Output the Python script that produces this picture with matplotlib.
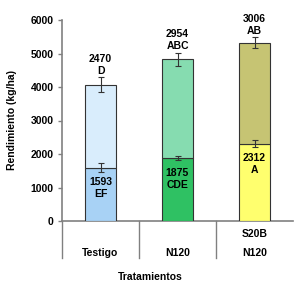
import numpy as np
import matplotlib
matplotlib.use('Agg')
import matplotlib.pyplot as plt

plt.rcParams['font.family'] = ['Liberation Sans', 'DejaVu Sans']
plt.rcParams['font.weight'] = 'bold'

# data
cats_top = ['', '', 'S20B']
cats_bot = ['Testigo', 'N120', 'N120']
base_vals = [1593, 1875, 2312]
base_err = [140, 60, 110]
base_letters = ['EF', 'CDE', 'A']
top_vals = [2470, 2954, 3006]
top_err = [225, 200, 160]
top_letters = ['D', 'ABC', 'AB']

base_colors = ['#a8d2f5', '#2fc163', '#ffff6e']
top_colors = ['#d9edfc', '#86dcb0', '#c6c473']
edge = '#333333'
grid_gray = '#808080'

fig = plt.figure(figsize=(2.96, 2.90), dpi=100)
ax = fig.add_axes([62 / 296, 69 / 290, 231 / 296, 201 / 290])

x = np.arange(len(base_vals)) + 0.5
w = 0.41
ax.bar(x, base_vals, w, color=base_colors, edgecolor=edge, linewidth=0.8, zorder=2)
ax.bar(x, top_vals, w, bottom=base_vals, color=top_colors, edgecolor=edge, linewidth=0.8, zorder=2)

totals = np.array(base_vals) + np.array(top_vals)
ax.errorbar(x, base_vals, yerr=base_err, fmt='none', ecolor='#333333', elinewidth=0.8, capsize=2.5, capthick=0.8, zorder=3)
ax.errorbar(x, totals, yerr=top_err, fmt='none', ecolor='#333333', elinewidth=0.8, capsize=2.5, capthick=0.8, zorder=3)

for i in range(len(x)):
    ax.text(x[i], totals[i] + top_err[i] + 50, f'{top_vals[i]}\n{top_letters[i]}', ha='center', va='bottom',
            fontsize=7.5, fontweight='bold', linespacing=1.2)
    ax.text(x[i], base_vals[i] - 290, f'{base_vals[i]}\n{base_letters[i]}', ha='center', va='top',
            fontsize=7.5, fontweight='bold', linespacing=1.25, zorder=4)

ax.set_xlim(0, 3)
ax.set_ylim(0, 6000)
ax.set_yticks(range(0, 6001, 1000))
ax.tick_params(axis='y', labelsize=7.5, color=grid_gray, length=3, width=1, pad=3)
ax.set_xticks([])
for s in ['top', 'right', 'bottom']:
    ax.spines[s].set_visible(False)
ax.spines['left'].set_color(grid_gray)
ax.spines['left'].set_linewidth(1.2)
for lab in ax.get_yticklabels():
    lab.set_fontweight('bold')

# category table below axis
ax.plot([0, 3], [0, 0], color=grid_gray, lw=1.2, clip_on=False, zorder=1)
trans = ax.get_xaxis_transform()
for xs in [0, 1, 2]:
    ax.plot([xs, xs], [0, -0.185], color=grid_gray, lw=1, transform=trans, clip_on=False)
for i in range(len(x)):
    if cats_top[i]:
        ax.text(x[i], -0.065, cats_top[i], transform=trans, ha='center', va='center', fontsize=7.5, fontweight='bold')
    ax.text(x[i], -0.16, cats_bot[i], transform=trans, ha='center', va='center', fontsize=7.5, fontweight='bold')

ax.set_ylabel('Rendimiento (kg/ha)', fontsize=7.5, fontweight='bold', labelpad=10)
fig.text(150 / 296, 1 - 277 / 290, 'Tratamientos', ha='center', va='center', fontsize=7.5, fontweight='bold')

fig.savefig('out.png', dpi=100)
